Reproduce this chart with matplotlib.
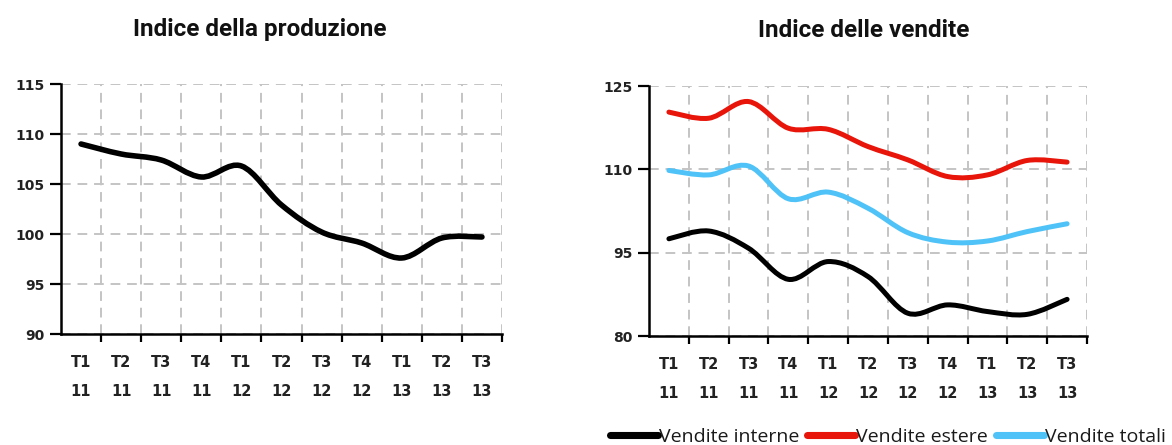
import numpy as np
import matplotlib
matplotlib.use("Agg")
import matplotlib.pyplot as plt
from matplotlib.path import Path
from matplotlib.patches import PathPatch
from matplotlib.lines import Line2D

# Quarterly labels (quarter / year)
quarters = ["T1", "T2", "T3", "T4", "T1", "T2", "T3", "T4", "T1", "T2", "T3"]
years = ["11", "11", "11", "11", "12", "12", "12", "12", "13", "13", "13"]

# Production index
produzione = [109.0, 108.0, 107.4, 105.7, 106.8, 102.9, 100.2, 99.1, 97.6, 99.6, 99.7]

# Sales indices
vendite_interne = [97.5, 98.9, 95.8, 90.2, 93.4, 90.7, 84.1, 85.6, 84.4, 83.9, 86.6]
vendite_estere = [120.3, 119.2, 122.2, 117.4, 117.2, 114.1, 111.7, 108.7, 109.0, 111.6, 111.3]
vendite_totali = [109.8, 109.0, 110.6, 104.7, 105.9, 103.0, 98.6, 96.9, 97.1, 98.8, 100.2]

prod_ticks = [90, 95, 100, 105, 110, 115]
vend_ticks = [80, 95, 110, 125]

BLACK = "#000000"
RED = "#e8150b"
BLUE = "#4fc3f7"

W, H = 1172, 445
fig = plt.figure(figsize=(W / 100, H / 100), dpi=100)


def smooth_path(x, y):
    """Bezier path through the points, smoothed like a spreadsheet line chart."""
    pts = np.column_stack([x, y]).astype(float)
    n = len(pts)
    verts = [pts[0]]
    codes = [Path.MOVETO]
    for i in range(n - 1):
        p0 = pts[i - 1] if i > 0 else pts[i]
        p1 = pts[i]
        p2 = pts[i + 1]
        p3 = pts[i + 2] if i + 2 < n else pts[i + 1]
        c1 = p1 + (p2 - p0) / 6.0
        c2 = p2 - (p3 - p1) / 6.0
        verts += [c1, c2, p2]
        codes += [Path.CURVE4] * 3
    return Path(verts, codes)


def setup_axes(ax, ylim, yticks):
    n = len(quarters)
    ax.set_xlim(-0.5, n - 0.5)
    ax.set_ylim(*ylim)
    ax.set_yticks(yticks)
    ax.set_yticklabels([str(t) for t in yticks])
    ax.set_xticks(np.arange(n))
    ax.set_xticklabels([f"{q}\n\n{yv}" for q, yv in zip(quarters, years)],
                       linespacing=0.95)
    ax.set_xticks(np.arange(n) + 0.5, minor=True)
    ax.tick_params(axis="x", which="major", length=0, pad=15,
                   labelsize=10.5)
    ax.tick_params(axis="x", which="minor", length=6, width=1.6,
                   direction="out", color="black")
    ax.tick_params(axis="y", length=8, width=1.6, direction="out",
                   labelsize=10, pad=4)
    for lab in ax.get_xticklabels() + ax.get_yticklabels():
        lab.set_fontweight("bold")
        lab.set_color("#222222")
    ax.grid(True, axis="x", which="minor", color="#c4c4c4", lw=1.4,
            ls=(0, (5, 3.5)))
    ax.grid(True, axis="y", which="major", color="#c4c4c4", lw=1.4,
            ls=(0, (5, 3.5)))
    ax.set_axisbelow(True)
    for side in ("top", "right"):
        ax.spines[side].set_visible(False)
    for side in ("left", "bottom"):
        ax.spines[side].set_linewidth(1.8)
        ax.spines[side].set_color("black")


def draw_series(ax, values, color, lw, label=None):
    x = np.arange(len(values))
    patch = PathPatch(smooth_path(x, values), facecolor="none",
                      edgecolor=color, lw=lw, capstyle="round",
                      joinstyle="round", zorder=3)
    ax.add_patch(patch)
    return Line2D([0], [0], color=color, lw=lw + 1.5,
                  solid_capstyle="round", label=label)


# Left panel: production
ax1 = fig.add_axes([61 / W, 1 - 334 / H, (502 - 61) / W, 250 / H])
setup_axes(ax1, (90, 115), prod_ticks)
draw_series(ax1, produzione, BLACK, 4.0)

# Right panel: sales
ax2 = fig.add_axes([649 / W, 1 - 336 / H, (1087 - 649) / W, 250 / H])
setup_axes(ax2, (80, 125), vend_ticks)
h1 = draw_series(ax2, vendite_interne, BLACK, 3.6, "Vendite interne")
h2 = draw_series(ax2, vendite_estere, RED, 3.6, "Vendite estere")
h3 = draw_series(ax2, vendite_totali, BLUE, 3.6, "Vendite totali")

title_font = ["Roboto", "DejaVu Sans"]
fig.text(260 / W, 1 - 36 / H, "Indice della produzione", ha="center",
         va="baseline", fontsize=17.5, fontweight="bold", family=title_font,
         color="#111111")
fig.text(864 / W, 1 - 37 / H, "Indice delle vendite", ha="center",
         va="baseline", fontsize=17.5, fontweight="bold", family=title_font,
         color="#111111")

fig.legend(handles=[h1, h2, h3], loc="center left",
           bbox_to_anchor=(610 / W, 1 - 437 / H), ncol=3, frameon=False,
           handlelength=2.47, handletextpad=0.05, columnspacing=0.41,
           borderaxespad=0, borderpad=0, labelcolor="#1a1a1a",
           prop={"family": "Open Sans", "size": 14.0})

fig.savefig("out.png", dpi=100)
